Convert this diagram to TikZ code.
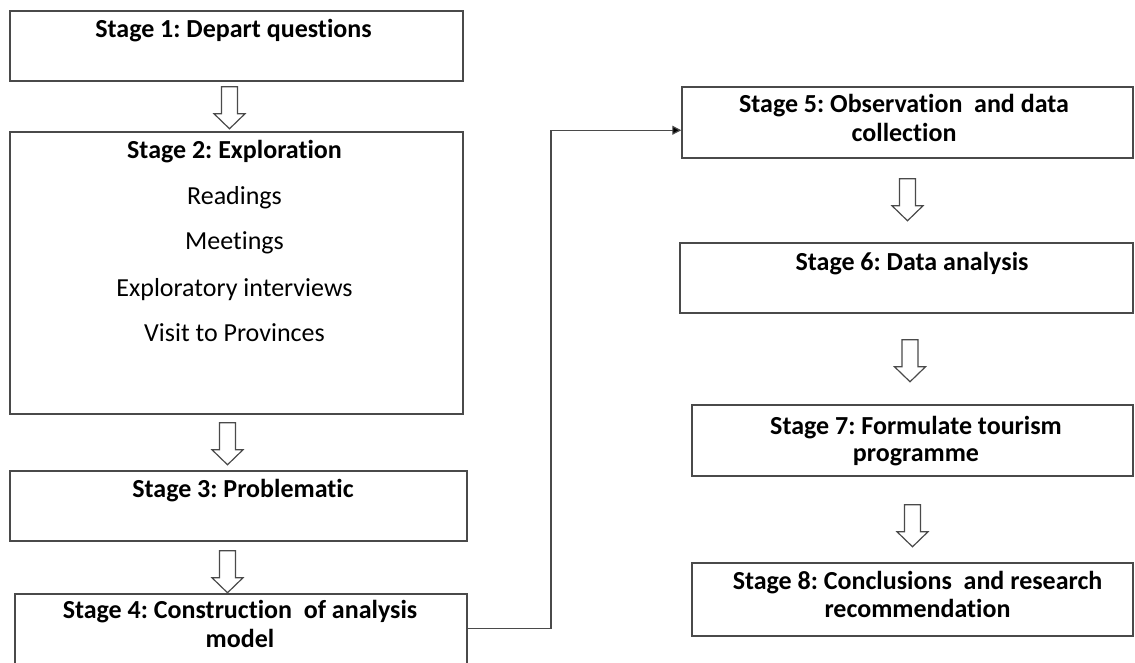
\documentclass[tikz,border=0pt]{standalone}
\usepackage{fontspec}
\setmainfont{Carlito}[Ligatures=NoCommon]
\usetikzlibrary{arrows.meta,calc}
\definecolor{edge}{HTML}{4A4A4A}
\frenchspacing
\tikzset{
  box/.style={draw=edge, line width=1.5pt, rectangle, inner sep=0pt},
  ttl/.style={anchor=base, font=\fontsize{26}{30}\selectfont\bfseries, inner sep=0pt},
  itm/.style={anchor=base, font=\fontsize{26}{30}\selectfont, inner sep=0pt},
  arrowline/.style={draw=edge, line width=1.2pt, fill=white, line join=miter},
  downarr/.pic={\draw[arrowline] (-8,0) -- (8,0) -- (8,27) -- (15.5,27) -- (0,42) -- (-15.5,27) -- (-8,27) -- cycle;},
  link/.style={draw=edge, line width=1.2pt, -{Triangle[length=9pt,width=9pt,fill=black]}}
}
\begin{document}
\begin{tikzpicture}[x=1pt,y=-1pt]
\useasboundingbox (0,0) rectangle (1135,663);
\clip (0,0) rectangle (1135,663);
% boxes
\node[box, minimum width=453pt, minimum height=70pt] (b1) at (236.5,46) {};
\node[box, minimum width=453pt, minimum height=282pt] (b2) at (236.5,273) {};
\node[box, minimum width=457pt, minimum height=70pt] (b3) at (238.5,506) {};
\node[box, minimum width=452pt, minimum height=110pt] (b4) at (241,649) {};
\node[box, minimum width=451pt, minimum height=71pt] (b5) at (907.5,122.5) {};
\node[box, minimum width=453pt, minimum height=70pt] (b6) at (906.5,278) {};
\node[box, minimum width=441pt, minimum height=71pt] (b7) at (912.5,440.5) {};
\node[box, minimum width=441pt, minimum height=73pt] (b8) at (912.5,599.5) {};
% texts
\node[ttl] (t1) at (233.5,38) {Stage 1: Depart questions};
\node[ttl] (t2) at (234.5,159) {Stage 2: Exploration};
\node[itm] (t2a) at (234.5,205) {Readings};
\node[itm] (t2b) at (234.5,250) {Meetings};
\node[itm] (t2c) at (234.5,296) {Exploratory interviews};
\node[itm] (t2d) at (234.5,341) {Visit to Provinces};
\node[ttl] (t3) at (243,497) {Stage 3: Problematic};
\node[ttl] (t4a) at (240,618) {Stage 4: Construction\ \ of analysis};
\node[ttl] (t4b) at (240,647) {model};
\node[ttl] (t5a) at (904,113) {Stage 5: Observation\ \ and data};
\node[ttl] (t5b) at (904,142) {collection};
\node[ttl] (t6) at (912,270) {Stage 6: Data analysis};
\node[ttl] (t7a) at (916,434) {Stage 7: Formulate tourism};
\node[ttl] (t7b) at (916,461) {programme};
\node[ttl] (t8a) at (917.5,589) {Stage 8: Conclusions\ \ and research};
\node[ttl] (t8b) at (917.5,617) {recommendation};
% block arrows
\pic at ($(b1.south)+(-7,5)$) {downarr};
\pic at ($(b2.south)+(-9,8)$) {downarr};
\pic at ($(b3.south)+(-11,9)$) {downarr};
\pic at ($(b5.south)+(0,20)$) {downarr};
\pic at ($(b6.south)+(3.5,26)$) {downarr};
\pic at ($(b7.south)+(0,28)$) {downarr};
% connector
\coordinate (c1) at ($(b4.north east)+(0,35)$);
\coordinate (c2) at ($(b5.north west)+(0,44)$);
\draw[link] (c1) -- (c1 -| 551,0) -- (c2 -| 551,0) -- (c2);
\end{tikzpicture}
\end{document}
